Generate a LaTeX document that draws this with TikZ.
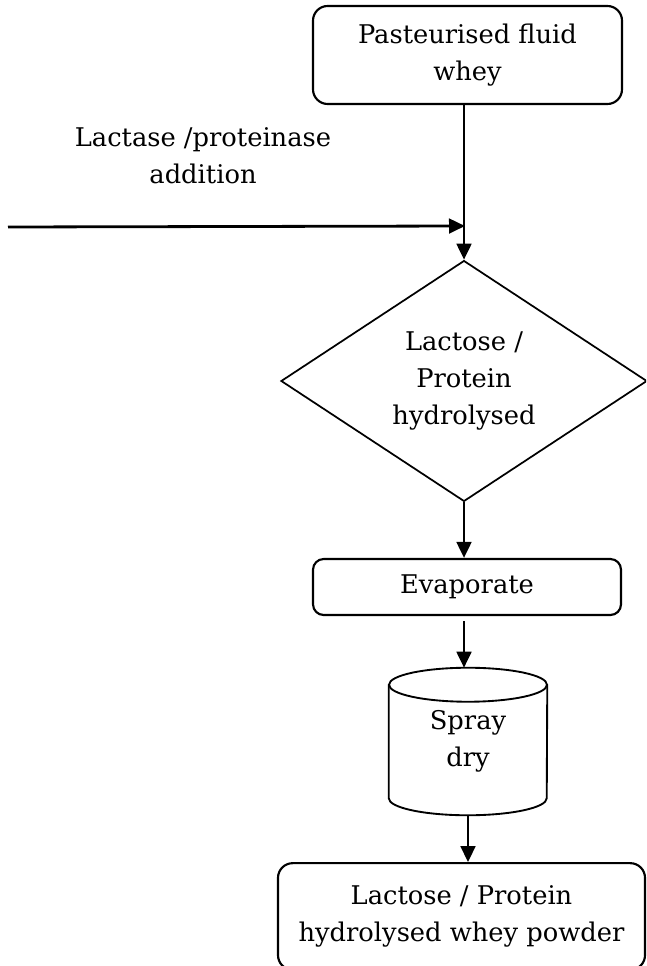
\documentclass[tikz,border=0pt]{standalone}
\usepackage{fontspec}
\setmainfont{DejaVu Serif}
\usetikzlibrary{arrows.meta,shapes.geometric,calc}
\begin{document}
\begin{tikzpicture}[x=0.75pt,y=-0.75pt,
  every node/.style={font=\fontsize{19.3}{27.5}\selectfont, align=center, inner sep=0pt},
  box/.style={draw, line width=1.6pt, rounded corners=11pt},
  flow/.style={-{Triangle[length=12pt,width=11pt]}, line width=2.1pt}]
  \useasboundingbox (0,0) rectangle (646,966);
  \clip (0,0) rectangle (646,966);

  % process blocks
  \node[box, minimum width=231.75pt, minimum height=73.5pt] (top) at (467.5,55)
    {Pasteurised fluid\\whey};
  \node (enz) at (203,156) {Lactase /proteinase\\addition};
  \node[draw, diamond, line width=1.3pt, minimum width=274.5pt, minimum height=174pt] (dia) at (464,381)
    {Lactose /\\Protein\\hydrolysed};
  \node[box, rounded corners=8pt, minimum width=231pt, minimum height=42pt] (evap) at (467,587)
    {Evaporate};
  \node[minimum width=118.5pt, minimum height=110.25pt] (dry) at (468,741.5) {Spray\\dry};
  \node[box, minimum width=275.25pt, minimum height=80pt] (powder) at (461.5,916.5)
    {Lactose / Protein\\hydrolysed whey powder};

  % spray dryer drum
  \draw[line width=1.4pt]
    ($(dry.north west)+(0,17)$) -- ($(dry.south west)+(0,-17)$)
    arc[start angle=180, end angle=360, x radius=59.25pt, y radius=12.75pt]
    -- ($(dry.north east)+(0,17)$);
  \draw[line width=1.4pt] ($(dry.north)+(0,17)$) ellipse[x radius=59.25pt, y radius=12.75pt];

  % connectors
  \coordinate (feed) at (8,227);
  \coordinate (join) at (465,226);
  \draw[flow] (top.south -| dia.north) -- (dia.north);
  \draw[flow] (feed) -- (join);
  \draw[flow] (dia.south) -- (evap.north -| dia.south);
  \draw[flow] ($(evap.south -| dia.south)+(0,5)$) -- (dry.north -| dia.south);
  \draw[flow] (dry.south) -- (powder.north -| dry.south);
\end{tikzpicture}
\end{document}
